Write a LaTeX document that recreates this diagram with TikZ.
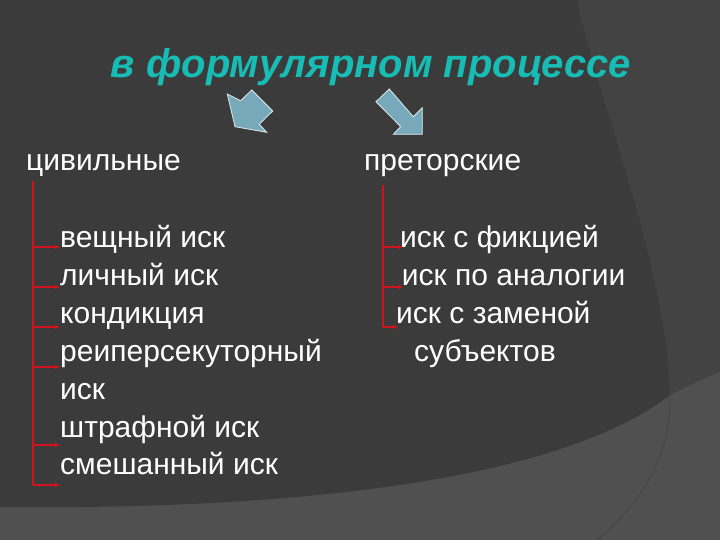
\documentclass[tikz,border=0pt]{standalone}
\usepackage{fontspec}
\setmainfont{Liberation Sans}
\usetikzlibrary{arrows.meta}
\definecolor{bgdark}{HTML}{3B3B3B}
\definecolor{bgmid}{HTML}{434343}
\definecolor{bglight}{HTML}{505050}
\definecolor{arcline}{HTML}{464646}
\definecolor{titlecol}{HTML}{17BDB4}
\definecolor{blockfill}{HTML}{78A9BA}
\definecolor{blockline}{HTML}{DCEAEE}
\definecolor{brk}{HTML}{D0141E}
\tikzset{
  body/.style={anchor=base west, inner sep=0pt, text=white, font=\fontsize{30bp}{36bp}\selectfont},
  titletext/.style={anchor=base, inner sep=0pt, text=titlecol, font=\fontsize{40bp}{46bp}\selectfont\bfseries\itshape},
  blockarrow/.style={fill=blockfill, draw=blockline, line width=0.8bp, line join=miter},
  brkline/.style={draw=brk, line width=2bp},
  brkarrow/.style={draw=brk, line width=2bp, -{Latex[length=5bp,width=5bp]}}
}
\begin{document}
\begin{tikzpicture}[x=1bp,y=-1bp]
\useasboundingbox (0,0) rectangle (720,540);
% background
\fill[bglight] (0,0) rectangle (720,540);
\fill[bgmid] (577,0) .. controls (598,100) and (668,270) .. (670,395)
  .. controls (690,385) and (705,378) .. (720,372) -- (720,0) -- cycle;
\fill[bgdark] (0,0) -- (577,0) .. controls (598,100) and (668,270) .. (670,395)
  .. controls (560,480) and (300,510) .. (0,507) -- cycle;
\draw[arcline, line width=1bp] (670,395) .. controls (672,450) and (645,500) .. (597,540);
% title
\node[titletext] (title) at (371,78) {в формулярном процессе};
% block arrows
\draw[blockarrow] (251.7,90) -- (272.7,111) -- (259.3,124.3) -- (266.7,132.3)
  -- (235,126.7) -- (227.3,94) -- (240.7,100.7) -- cycle;
\draw[blockarrow] (389.3,89) -- (376,101.7) -- (400.7,126.7) -- (393.3,134.3)
  -- (422.3,134.3) -- (422.3,107.7) -- (413.3,116.7) -- cycle;
% headings
\node[body] (civ) at (26,170.5) {цивильные};
\node[body] (pret) at (364,170.5) {преторские};
% left list
\node[body] (l1) at (60,248) {вещный иск};
\node[body] (l2) at (60,285.8) {личный иск};
\node[body] (l3) at (60,323.6) {кондикция};
\node[body] (l4) at (60,361.4) {реиперсекуторный};
\node[body] (l5) at (60,399.2) {иск};
\node[body] (l6) at (60,437) {штрафной иск};
\node[body] (l7) at (60,474.8) {смешанный иск};
% right list
\node[body] (r1) at (400,247.5) {иск с фикцией};
\node[body] (r2) at (401.7,286) {иск по аналогии};
\node[body] (r3) at (396,323.6) {иск с заменой};
\node[body] (r4) at (414,361.4) {субъектов};
% left bracket
\coordinate (lt) at (33,181);
\coordinate (lb) at (33,485);
\coordinate (la1) at (33,247);
\coordinate (la2) at (33,287);
\coordinate (la3) at (33,327);
\coordinate (la4) at (33,367);
\coordinate (la6) at (33,445);
\coordinate (la7) at (33,485);
\draw[brkline] (lt) -- (lb);
\draw[brkarrow] (la1) -- (la1 -| l1.west);
\draw[brkarrow] (la2) -- (la2 -| l2.west);
\draw[brkarrow] (la3) -- (la3 -| l3.west);
\draw[brkarrow] (la4) -- (la4 -| l4.west);
\draw[brkarrow] (la6) -- (la6 -| l6.west);
\draw[brkarrow] (la7) -- (la7 -| l7.west);
% right bracket
\coordinate (rt) at (383,185);
\coordinate (rb) at (383,327);
\coordinate (ra1) at (383,247);
\coordinate (ra2) at (383,287);
\coordinate (ra3) at (383,327);
\draw[brkline] (rt) -- (rb);
\draw[brkarrow] (ra1) -- ([xshift=3bp]ra1 -| r1.west);
\draw[brkarrow] (ra2) -- ([xshift=1.3bp]ra2 -| r2.west);
\draw[brkarrow] (ra3) -- ([xshift=2bp]ra3 -| r3.west);
\end{tikzpicture}
\end{document}
